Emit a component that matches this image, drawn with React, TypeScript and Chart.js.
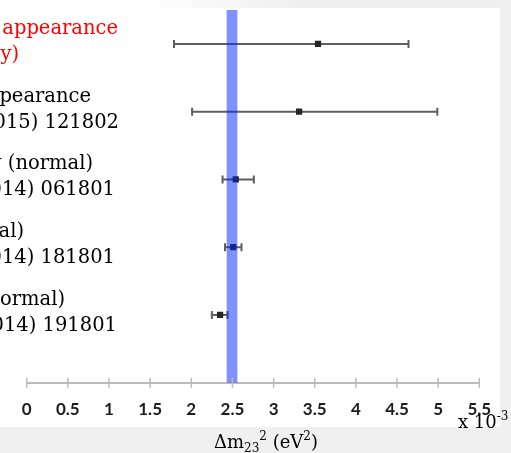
import { useEffect, useRef } from "react";
import { Chart, registerables } from "chart.js";
import type { Plugin } from "chart.js";

Chart.register(...registerables);

// Δm²23 best fits and 68% ranges, in units of 10^-3 eV²
const rowIndex = [1, 2, 3, 4, 5];
const bestFit = [3.54, 3.31, 2.54, 2.51, 2.35];
const rangeLow = [1.79, 2.01, 2.38, 2.41, 2.25];
const rangeHigh = [4.64, 4.99, 2.76, 2.61, 2.44];

const labelTop = [
  "IceCube ντ appearance",
  "OPERA ντ appearance",
  "Daya Bay (normal)",
  "T2K (normal)",
  "MINOS (normal)",
];
const labelBottom = [
  "(this study)",
  "PRL 115 (2015) 121802",
  "PRL 112 (2014) 061801",
  "PRL 112 (2014) 181801",
  "PRL 112 (2014) 191801",
];

const xTickValues = [0, 0.5, 1, 1.5, 2, 2.5, 3, 3.5, 4, 4.5, 5, 5.5];

// combined-fit band
const bandLow = 2.43;
const bandHigh = 2.56;

// ---- layout & style ----
const W = 511;
const H = 453;
const labelColors = ["#ff0000", "#000000", "#000000", "#000000", "#000000"];
const labelTopRight = [118, 91, 93, 24, 65];
const labelBottomRight = [19, 119, 115, 115, 117];
const serif = '"DejaVu Serif", serif';
const axisGrey = "#bbbbbb";

const backdrop: Plugin = {
  id: "backdrop",
  beforeDraw(chart) {
    const { ctx } = chart;
    ctx.save();
    ctx.fillStyle = "#f0f0f0";
    ctx.fillRect(0, 0, W, H);
    const g = ctx.createLinearGradient(140, 0, 300, 0);
    g.addColorStop(0, "#ffffff");
    g.addColorStop(1, "#efefef");
    ctx.fillStyle = g;
    ctx.fillRect(0, 0, 500, 8);
    ctx.fillStyle = "#ffffff";
    ctx.fillRect(0, 8, 500, 419);
    ctx.restore();
  },
};

const errorBars: Plugin = {
  id: "errorBars",
  beforeDatasetsDraw(chart) {
    const { ctx } = chart;
    const x = chart.scales.x;
    const y = chart.scales.y;
    ctx.save();
    ctx.strokeStyle = "#5f5f5f";
    ctx.lineWidth = 2;
    rowIndex.forEach((r, i) => {
      const py = y.getPixelForValue(r);
      const x0 = x.getPixelForValue(rangeLow[i]);
      const x1 = x.getPixelForValue(rangeHigh[i]);
      ctx.beginPath();
      ctx.moveTo(x0, py);
      ctx.lineTo(x1, py);
      ctx.moveTo(x0, py - 4);
      ctx.lineTo(x0, py + 4);
      ctx.moveTo(x1, py - 4);
      ctx.lineTo(x1, py + 4);
      ctx.stroke();
    });
    ctx.restore();
  },
};

const band: Plugin = {
  id: "band",
  afterDatasetsDraw(chart) {
    const { ctx, chartArea } = chart;
    const x = chart.scales.x;
    const xl = x.getPixelForValue(bandLow);
    const xr = x.getPixelForValue(bandHigh);
    ctx.save();
    ctx.fillStyle = "rgba(0, 36, 245, 0.5)";
    ctx.fillRect(xl, chartArea.top, xr - xl, chartArea.bottom - chartArea.top);
    ctx.restore();
  },
};

type Piece = { text: string; size: number; dy: number };

function drawPieces(ctx: CanvasRenderingContext2D, pieces: Piece[], x: number, baseline: number, align: "left" | "center") {
  let total = 0;
  const widths = pieces.map((p) => {
    ctx.font = `${p.size}px ${serif}`;
    const w = ctx.measureText(p.text).width;
    total += w;
    return w;
  });
  let cx = align === "center" ? x - total / 2 : x;
  pieces.forEach((p, i) => {
    ctx.font = `${p.size}px ${serif}`;
    ctx.fillText(p.text, cx, baseline + p.dy);
    cx += widths[i];
  });
}

const annotations: Plugin = {
  id: "annotations",
  afterDraw(chart) {
    const { ctx, chartArea } = chart;
    const x = chart.scales.x;
    const y = chart.scales.y;
    ctx.save();

    // tick marks crossing the axis line
    ctx.strokeStyle = axisGrey;
    ctx.lineWidth = 1.5;
    ctx.beginPath();
    xTickValues.forEach((v) => {
      const px = x.getPixelForValue(v);
      ctx.moveTo(px, chartArea.bottom - 5);
      ctx.lineTo(px, chartArea.bottom + 5);
    });
    ctx.stroke();

    // row labels
    ctx.font = `19.5px ${serif}`;
    ctx.textAlign = "right";
    ctx.textBaseline = "alphabetic";
    rowIndex.forEach((r, i) => {
      const py = y.getPixelForValue(r);
      ctx.fillStyle = labelColors[i];
      ctx.fillText(labelTop[i], labelTopRight[i], py - 10);
      ctx.fillText(labelBottom[i], labelBottomRight[i], py + 16);
    });

    // axis title and multiplier
    ctx.textAlign = "left";
    ctx.fillStyle = "#000000";
    drawPieces(
      ctx,
      [
        { text: "Δm", size: 18, dy: 0 },
        { text: "23", size: 12, dy: 4 },
        { text: "2", size: 12, dy: -8 },
        { text: " (eV", size: 18, dy: 0 },
        { text: "2", size: 12, dy: -8 },
        { text: ")", size: 18, dy: 0 },
      ],
      266,
      448,
      "center"
    );
    drawPieces(
      ctx,
      [
        { text: "x 10", size: 18, dy: 0 },
        { text: "-3", size: 12, dy: -8 },
      ],
      458,
      428,
      "left"
    );
    ctx.restore();
  },
};

export default function App() {
  const canvasRef = useRef<HTMLCanvasElement | null>(null);

  useEffect(() => {
    document.body.style.margin = "0";
    const canvas = canvasRef.current;
    if (!canvas) return;
    const chart = new Chart(canvas, {
      type: "scatter",
      data: {
        datasets: [
          {
            data: rowIndex.map((r, i) => ({ x: bestFit[i], y: r })),
            pointStyle: "rect",
            pointRadius: 4.4,
            pointHoverRadius: 4.4,
            backgroundColor: "#262626",
            borderWidth: 0,
          },
        ],
      },
      options: {
        animation: false,
        responsive: false,
        events: [],
        layout: { padding: { left: 26.7, right: 31.7, top: 10, bottom: 0 } },
        plugins: {
          legend: { display: false },
          tooltip: { enabled: false },
        },
        scales: {
          x: {
            type: "linear",
            min: 0,
            max: 5.5,
            afterBuildTicks: (s: any) => {
              s.ticks = xTickValues.map((v) => ({ value: v }));
            },
            afterFit: (s: any) => {
              s.height = 70.3;
            },
            grid: { display: false, drawTicks: false },
            border: { display: true, color: axisGrey, width: 2 },
            ticks: {
              autoSkip: false,
              maxRotation: 0,
              padding: 17,
              color: "#1c1c1c",
              font: { family: "Lato", size: 17, weight: "bold" },
              callback: (v: any) => String(v),
            },
          },
          y: {
            type: "linear",
            reverse: true,
            min: 0.5,
            max: 6,
            display: false,
          },
        },
      },
      plugins: [backdrop, errorBars, band, annotations],
    });
    return () => chart.destroy();
  }, []);

  return <canvas ref={canvasRef} width={W} height={H} style={{ display: "block" }} />;
}
